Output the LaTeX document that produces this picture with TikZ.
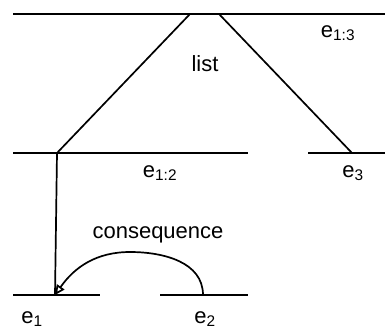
\documentclass[tikz,border=0pt]{standalone}
\usepackage{fontspec}
\setmainfont{Liberation Sans}
\usetikzlibrary{arrows.meta}
\newcommand{\EvTop}{14}
\newcommand{\EvMid}{153}
\newcommand{\EvLow}{295}
\tikzset{
  evline/.style={line width=2.2pt},
  evlink/.style={line width=1.7pt},
  evlabel/.style={font=\fontsize{22}{26}\selectfont,inner sep=0pt},
  evarrow/.style={line width=1.7pt,-{Triangle[open,length=10pt,width=9pt]}}
}
\begin{document}
\begin{tikzpicture}[x=1pt,y=-1pt]
  \useasboundingbox (0,0) rectangle (385,329);
  % event lines
  \coordinate (l13a) at (13,\EvTop);
  \coordinate (l13b) at (385,\EvTop);
  \coordinate (l12a) at (13,\EvMid);
  \coordinate (l12b) at (248,\EvMid);
  \coordinate (l3a) at (308,\EvMid);
  \coordinate (l3b) at (385,\EvMid);
  \coordinate (l1a) at (13,\EvLow);
  \coordinate (l1b) at (100,\EvLow);
  \coordinate (l2a) at (160,\EvLow);
  \coordinate (l2b) at (248,\EvLow);
  \draw[evline] (l13a) -- (l13b);
  \draw[evline] (l12a) -- (l12b);
  \draw[evline] (l3a) -- (l3b);
  \draw[evline] (l1a) -- (l1b);
  \draw[evline] (l2a) -- (l2b);
  % list
  \coordinate (topL) at (190,\EvTop);
  \coordinate (topR) at (219,\EvTop);
  \coordinate (j12) at (57,\EvMid);
  \coordinate (j3) at (352,\EvMid);
  \coordinate (j1) at (55,\EvLow);
  \coordinate (j2) at (203,\EvLow);
  \draw[evlink] (topL) -- (j12);
  \draw[evlink] (topR) -- (j3);
  \draw[evlink] (j12) -- (j1);
  % consequence
  \coordinate (arcTop) at (130,252);
  \draw[evarrow] (j2) to[out=90,in=0] (arcTop) to[out=180,in=55] (j1);
  % labels
  \node[evlabel] (e13) at (338,33) {e\textsubscript{1:3}};
  \node[evlabel] (list) at (205,64) {list};
  \node[evlabel] (e12) at (160,173) {e\textsubscript{1:2}};
  \node[evlabel] (e3) at (353,173) {e\textsubscript{3}};
  \node[evlabel] (cons) at (158,235) {consequence};
  \node[evlabel] (e1) at (32,319) {e\textsubscript{1}};
  \node[evlabel] (e2) at (205,319) {e\textsubscript{2}};
\end{tikzpicture}
\end{document}
